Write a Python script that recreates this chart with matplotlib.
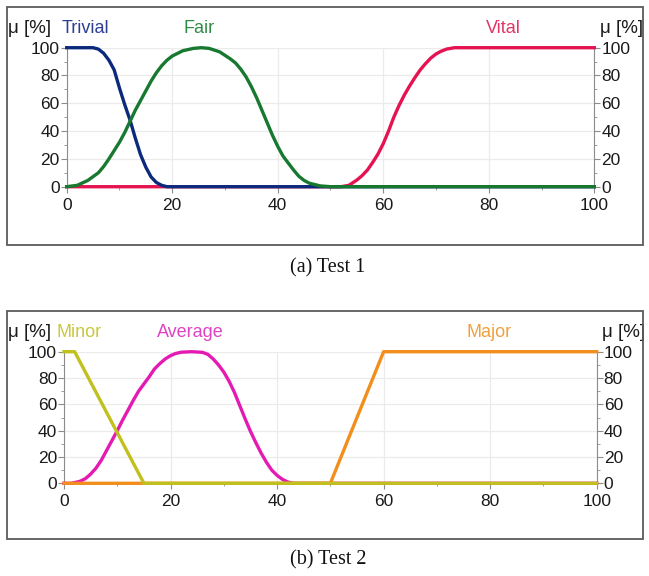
import matplotlib.pyplot as plt
from matplotlib.patches import Rectangle
from matplotlib.ticker import MultipleLocator

# ------------------------------------------------------------
# data (membership functions, mu in %)
# ------------------------------------------------------------
trivial_x = [0, 5, 6, 7, 8, 9, 10, 11, 12, 13, 14, 15, 16, 17, 18, 19, 100]
trivial_y = [100, 100, 99, 96, 91, 84, 71, 59, 48, 35, 23, 14, 7, 3, 1, 0, 0]

fair_x = [0, 2, 4, 6, 7, 8, 9, 10, 11, 12, 13, 14, 15, 16, 17, 18, 19, 20, 22, 24,
          25.5, 27, 29, 31, 32, 33, 34, 35, 36, 37, 38, 39, 40, 41, 42, 43, 44, 45,
          46, 48, 50, 100]
fair_y = [0, 1, 4.5, 10, 14.5, 20, 26, 32, 39, 47, 55, 62, 69, 76, 82, 87, 91, 94,
          97.8, 99.5, 100, 99.5, 97, 92, 89, 84.5, 79, 72, 64, 55, 46, 37, 29, 22,
          17, 12, 7.5, 4.5, 2.5, 0.6, 0, 0]

vital_x = [0, 52, 53.5, 55, 56, 57, 58, 59, 60, 61, 62, 63, 64, 65, 66, 67, 68, 69,
           70, 71, 72, 73.5, 100]
vital_y = [0, 0, 1, 4.8, 8, 12, 17.5, 23.5, 31, 40, 50, 58.5, 66, 72.5, 78.5, 84,
           88.5, 92.5, 95.5, 97.5, 99, 100, 100]

minor_x = [0, 2, 15, 100]
minor_y = [100, 100, 0, 0]

average_x = [0, 1.4, 3, 4, 5, 6, 7, 8, 9, 10, 11, 12, 13, 14, 15, 16, 17, 18, 19,
             20, 21, 22, 24, 26, 27, 28, 29, 30, 31, 32, 33, 34, 35, 36, 37, 38, 39,
             40, 41, 42, 43, 100]
average_y = [0, 0, 1.5, 3.5, 7, 11.5, 17.5, 25, 32.5, 40, 48, 55.5, 63, 70, 75.5,
             81, 87, 91, 94.5, 97, 98.7, 99.6, 100, 99.5, 98, 94.5, 90, 84.5, 77.5,
             69, 59, 49, 39.5, 31, 23, 16, 10, 6, 3, 1, 0, 0]

major_x = [0, 50, 60, 100]
major_y = [0, 0, 100, 100]

ticks = [0, 20, 40, 60, 80, 100]

# ------------------------------------------------------------
# figure
# ------------------------------------------------------------
plt.rcParams['font.family'] = 'Liberation Sans'
TICK_FONT = ['Liberation Sans Narrow', 'Liberation Sans']

fig = plt.figure(figsize=(6.49, 5.76), dpi=100)
fig.patch.set_facecolor("white")

FW, FH = 649, 576


def px_box(x0, y0, x1, y1):
    # pixel box (top-left origin) -> figure fraction rect
    return [x0 / FW, 1 - y1 / FH, (x1 - x0) / FW, (y1 - y0) / FH]


def frame(y0, y1):
    r = Rectangle((7 / FW, 1 - y1 / FH), (643 - 7) / FW, (y1 - y0) / FH,
                  transform=fig.transFigure, fill=False, edgecolor="#5a5a5a",
                  linewidth=1.3)
    fig.patches.append(r)


def setup(ax):
    ax.set_xlim(0, 100)
    ax.set_ylim(0, 100)
    ax.set_xticks(ticks)
    ax.set_yticks(ticks)
    ax.xaxis.set_minor_locator(MultipleLocator(10))
    ax.yaxis.set_minor_locator(MultipleLocator(10))
    ax.grid(which="major", color="#ebebeb", linewidth=0.9)
    ax.set_axisbelow(True)
    for s in ["left", "right", "bottom"]:
        ax.spines[s].set_color("#8c8c8c")
    ax.spines["top"].set_visible(False)
    ax.tick_params(axis="both", which="major", length=4, color="#8c8c8c",
                   labelcolor="#1a1a1a", pad=1)
    ax.tick_params(axis="both", which="minor", length=2.5, color="#8c8c8c")
    ax.tick_params(axis="y", which="both", left=True, right=True,
                   labelleft=True, labelright=True)
    ax.tick_params(axis="x", which="major", pad=4)
    for lab in ax.get_xticklabels() + ax.get_yticklabels() + \
            ax.yaxis.get_ticklabels(which="major"):
        lab.set_fontfamily(TICK_FONT)
        lab.set_fontsize(12.5)
    for t in ax.yaxis.get_major_ticks():
        t.label2.set_fontfamily(TICK_FONT)
        t.label2.set_fontsize(12.5)


def curve_label(ax, x, text, color):
    ax.annotate(text, xy=(x, 1), xycoords=("data", "axes fraction"),
                xytext=(0, 14), textcoords="offset points",
                ha="center", va="center", fontsize=13, color=color)


def mu_labels(ax, left_px):
    ax.annotate("μ [%]", xy=(0, 1), xycoords="axes fraction",
                xytext=(-left_px * 0.72, 14), textcoords="offset points",
                ha="left", va="center", fontsize=13.5, color="#1a1a1a")
    ax.annotate("μ [%]", xy=(1, 1), xycoords="axes fraction",
                xytext=(4, 14), textcoords="offset points",
                ha="left", va="center", fontsize=13.5, color="#1a1a1a")


LW = 2.4

# ---------------- (a) Test 1 ----------------
frame(7, 245)
ax1 = fig.add_axes(px_box(66.7, 47.7, 594.3, 186.7))
setup(ax1)
ax1.plot(vital_x, vital_y, color="#E5134F", lw=LW, clip_on=False, zorder=3)
ax1.plot(trivial_x, trivial_y, color="#0C2A7C", lw=LW, clip_on=False, zorder=4)
ax1.plot(fair_x, fair_y, color="#17782F", lw=LW, clip_on=False, zorder=5)
curve_label(ax1, 3.5, "Trivial", "#2E3F92")
curve_label(ax1, 25, "Fair", "#2E8C46")
curve_label(ax1, 82.7, "Vital", "#E53468")
mu_labels(ax1, 66.7 - 8)

fig.text(328 / FW, 1 - 268 / FH, "(a) Test 1", ha="center", va="center",
         fontsize=14.5, family="Liberation Serif", color="#111111")

# ---------------- (b) Test 2 ----------------
frame(311, 539)
ax2 = fig.add_axes(px_box(64, 351.7, 596.7, 483.3))
setup(ax2)
ax2.plot(average_x, average_y, color="#E41BB2", lw=LW, clip_on=False, zorder=3)
ax2.plot(major_x, major_y, color="#F28E1C", lw=LW, clip_on=False, zorder=4)
ax2.plot(minor_x, minor_y, color="#C0C01E", lw=LW, clip_on=False, zorder=5)
curve_label(ax2, 2.8, "Minor", "#C8C83C")
curve_label(ax2, 23.8, "Average", "#E043C2")
curve_label(ax2, 79.8, "Major", "#F0A040")
mu_labels(ax2, 64 - 8)

fig.text(328 / FW, 1 - 560 / FH, "(b) Test 2", ha="center", va="center",
         fontsize=14.5, family="Liberation Serif", color="#111111")

plt.savefig("out.png", dpi=100)
